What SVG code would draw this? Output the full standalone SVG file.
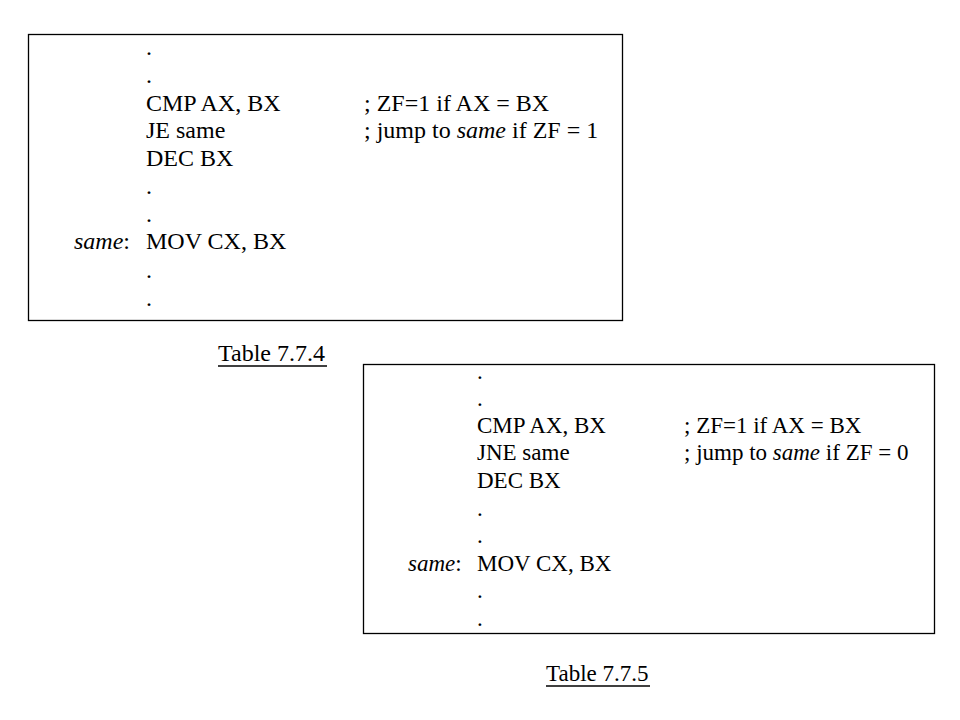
<svg xmlns="http://www.w3.org/2000/svg" width="960" height="720" viewBox="0 0 960 720">
<style>
.box{fill:#fff;stroke:#000;stroke-width:1.3}
.t1{font-family:"Liberation Serif","Times New Roman",serif;font-size:24px;fill:#000}
.t2{font-family:"Liberation Serif","Times New Roman",serif;font-size:23px;fill:#000}
.i{font-style:italic}
.ul{stroke:#000;stroke-width:1.3}
</style>
<rect width="960" height="720" fill="#fff"/>
<g id="table-7-7-4">
<rect class="box" x="28.5" y="34.5" width="594" height="286"/>
<g class="t1">
<text x="146" y="55">.</text>
<text x="146" y="83">.</text>
<text x="146" y="111">CMP AX, BX</text>
<text x="364" y="111">; ZF=1 if AX = BX</text>
<text x="146" y="138">JE same</text>
<text x="364" y="138">; jump to <tspan class="i">same</tspan> if ZF = 1</text>
<text x="146" y="166">DEC BX</text>
<text x="146" y="194">.</text>
<text x="146" y="222">.</text>
<text x="74" y="249"><tspan class="i">same</tspan>:</text>
<text x="146" y="249">MOV CX, BX</text>
<text x="146" y="278">.</text>
<text x="146" y="306">.</text>
</g>
</g>
<g id="caption-7-7-4">
<text class="t1" x="218" y="361">Table 7.7.4</text>
<line class="ul" x1="218" y1="366" x2="327" y2="366"/>
</g>
<g id="table-7-7-5">
<rect class="box" x="363.5" y="364.5" width="571" height="269"/>
<g class="t2">
<text x="477" y="379">.</text>
<text x="477" y="406">.</text>
<text x="477" y="433">CMP AX, BX</text>
<text x="684" y="433">; ZF=1 if AX = BX</text>
<text x="477" y="460">JNE same</text>
<text x="684" y="460">; jump to <tspan class="i">same</tspan> if ZF = 0</text>
<text x="477" y="488">DEC BX</text>
<text x="477" y="516">.</text>
<text x="477" y="543">.</text>
<text x="408" y="571"><tspan class="i">same</tspan>:</text>
<text x="477" y="571">MOV CX, BX</text>
<text x="477" y="598">.</text>
<text x="477" y="626">.</text>
</g>
</g>
<g id="caption-7-7-5">
<text class="t2" x="546" y="681">Table 7.7.5</text>
<line class="ul" x1="546" y1="686" x2="650" y2="686"/>
</g>
<g id="connectors"/>
</svg>
